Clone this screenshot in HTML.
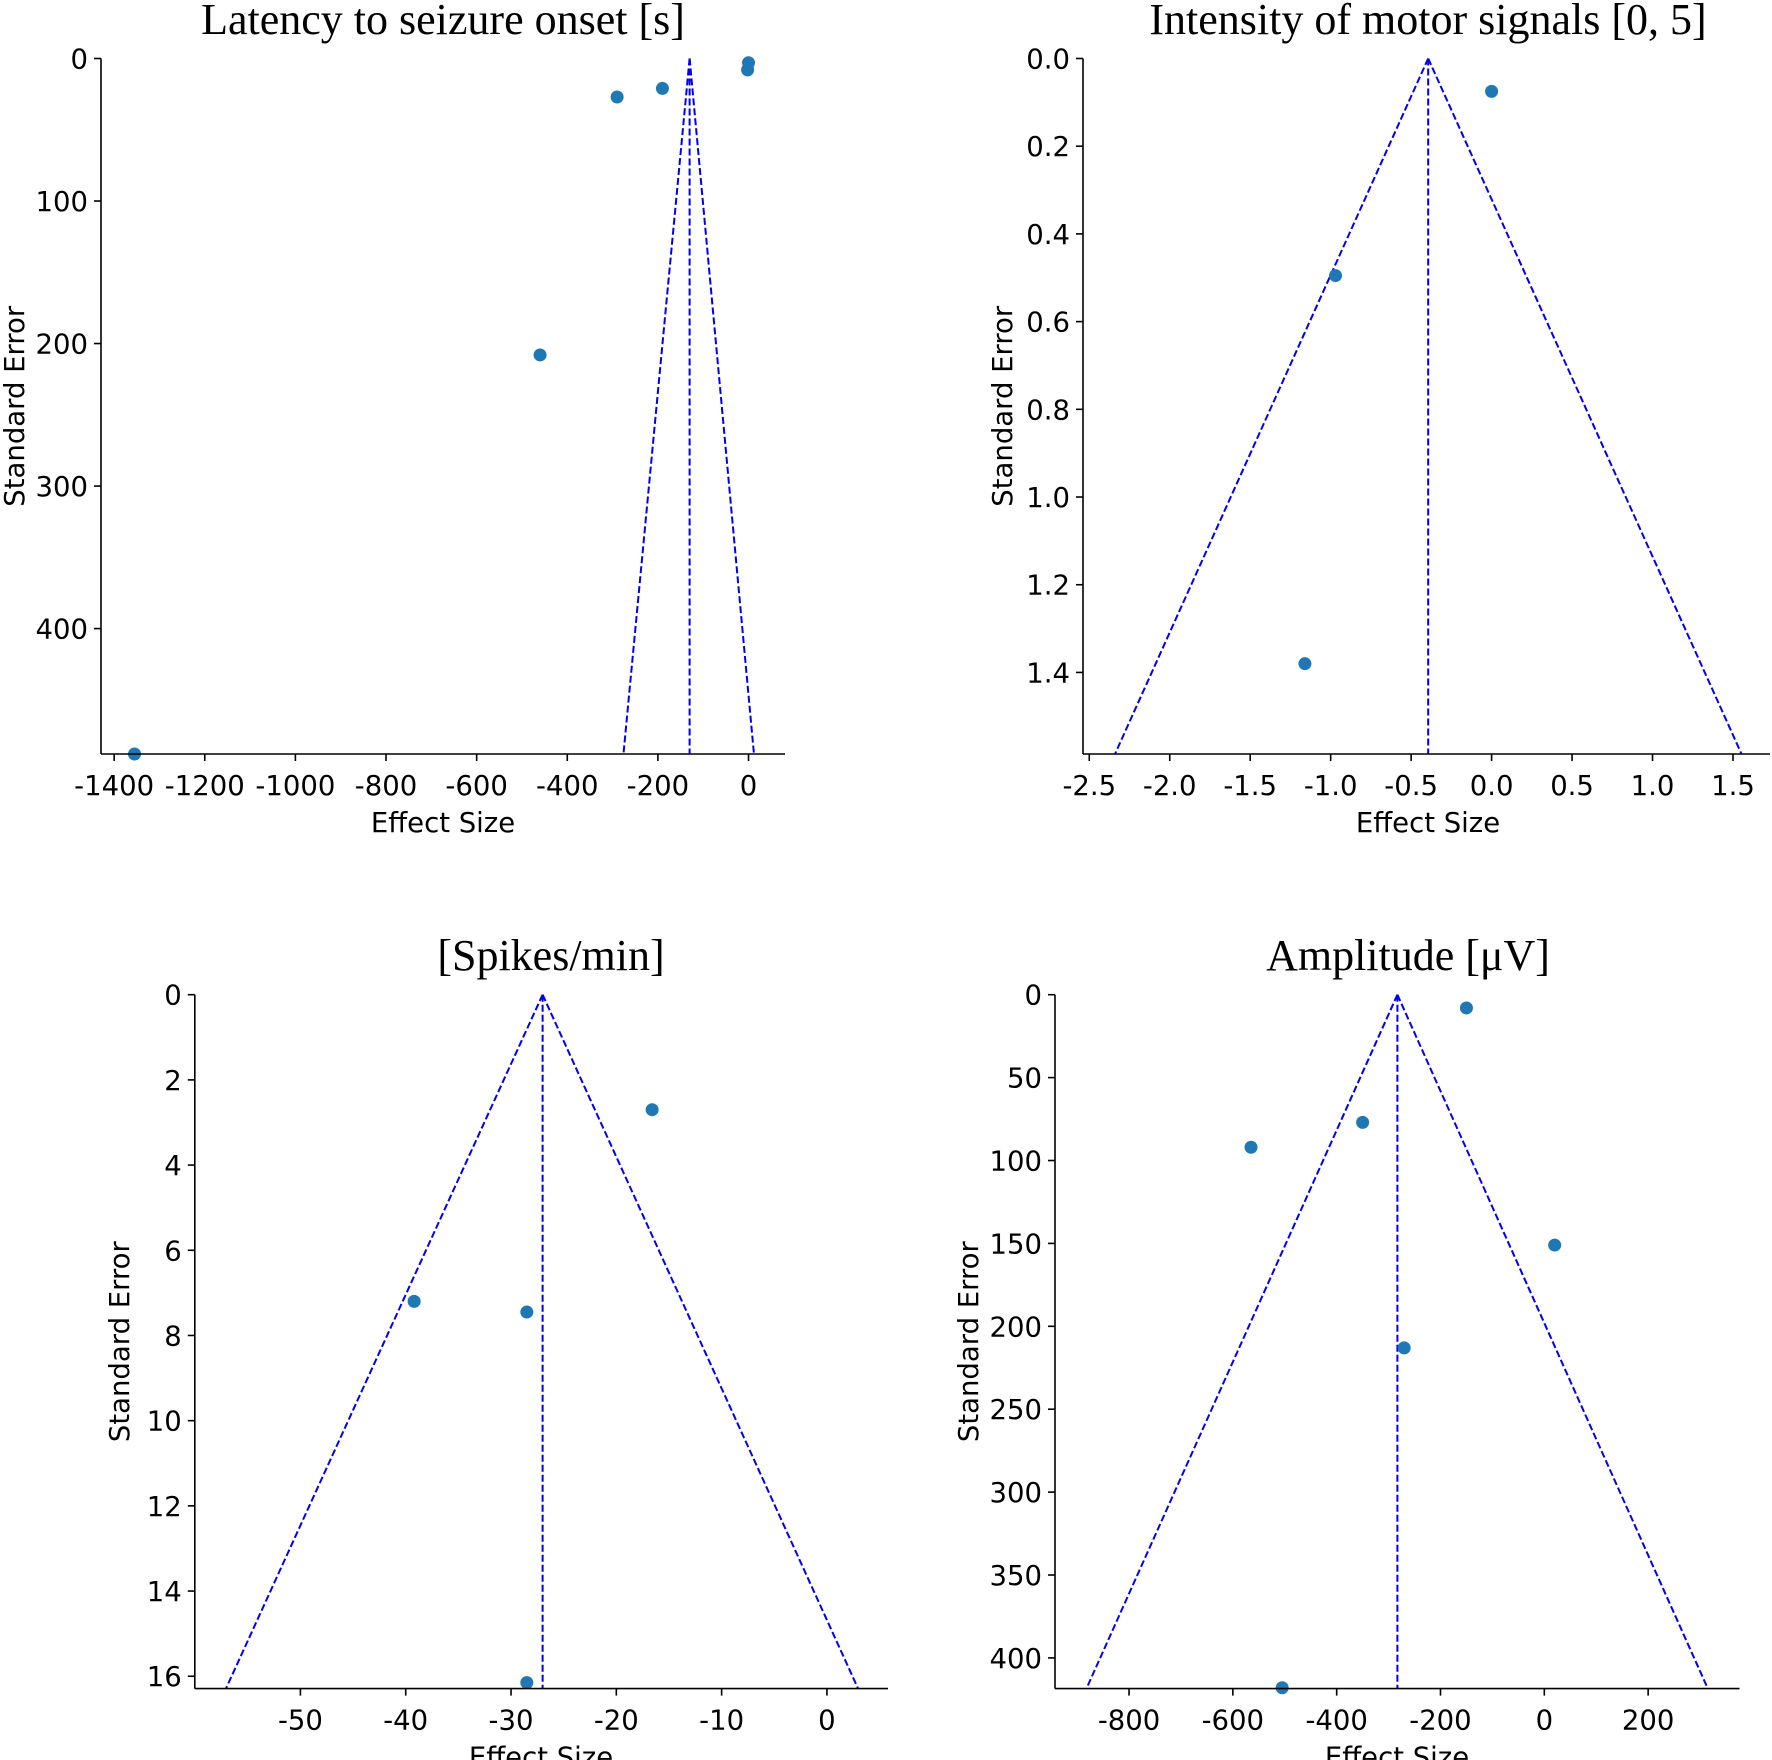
<!DOCTYPE html>
<html><head><meta charset="utf-8"><style>
html,body{margin:0;padding:0;background:#fff;}
svg{display:block;}
.tk{font-family:"DejaVu Sans","Liberation Sans",sans-serif;font-size:27.5px;fill:#000;}
.ttl{font-family:"Liberation Serif",serif;font-size:44px;fill:#000;}
</style></head><body>
<svg id="fig" width="1772" height="1760" xmlns="http://www.w3.org/2000/svg"></svg>
<script>
// Panel 1: Latency to seizure onset
const p1Effects = [-1355, -460, -290, -190, 0, -2];
const p1SE = [488, 208, 27, 21, 3, 8];
const p1XTicks = [-1400, -1200, -1000, -800, -600, -400, -200, 0];
const p1YTicks = [0, 100, 200, 300, 400];
const p1Funnel = [-130, -276, 12]; // center, bottom-left, bottom-right
// Panel 2: Intensity of motor signals
const p2Effects = [0.0, -0.97, -1.16];
const p2SE = [0.075, 0.495, 1.38];
const p2XTicks = [-2.5, -2.0, -1.5, -1.0, -0.5, 0.0, 0.5, 1.0, 1.5];
const p2YTicks = [0.0, 0.2, 0.4, 0.6, 0.8, 1.0, 1.2, 1.4];
const p2Funnel = [-0.394, -2.34, 1.553];
// Panel 3: Spikes/min
const p3Effects = [-16.6, -39.2, -28.5, -28.5];
const p3SE = [2.7, 7.2, 7.45, 16.15];
const p3XTicks = [-50, -40, -30, -20, -10, 0];
const p3YTicks = [0, 2, 4, 6, 8, 10, 12, 14, 16];
const p3Funnel = [-27.0, -57.07, 2.96];
// Panel 4: Amplitude
const p4Effects = [-150, -350, -565, 20, -270, -505];
const p4SE = [8, 77, 92, 151, 213, 418];
const p4XTicks = [-800, -600, -400, -200, 0, 200];
const p4YTicks = [0, 50, 100, 150, 200, 250, 300, 350, 400];
const p4Funnel = [-283, -882, 315];

const NS = "http://www.w3.org/2000/svg";
const fig = document.getElementById('fig');
function mk(tag, attrs, parent, text){
  const e = document.createElementNS(NS, tag);
  for (const k in attrs) e.setAttribute(k, attrs[k]);
  if (text !== undefined) e.textContent = text;
  parent.appendChild(e); return e;
}
function fmt(v, dec){ return v.toFixed(dec); }

function panel(cfg){
  const g = mk('g', {}, fig);
  
  
  const L = cfg.box[0], T = cfg.box[1], R = cfg.box[2], B = cfg.box[3];
  const xs = v => L + (v - cfg.xr[0]) / (cfg.xr[1] - cfg.xr[0]) * (R - L);
  const ys = v => T + (v - cfg.yr[0]) / (cfg.yr[1] - cfg.yr[0]) * (B - T);
  const fg = mk('g', {stroke:'#0000ee', 'stroke-width':2, 'stroke-dasharray':'7,3', fill:'none'}, g);
  
  
  const c = cfg.funnel[0];
  let l = mk('line', {x1:xs(c), y1:ys(0), x2:xs(cfg.funnel[1]), y2:ys(cfg.yr[1])}, fg);
  
  
  l = mk('line', {x1:xs(c), y1:ys(0), x2:xs(cfg.funnel[2]), y2:ys(cfg.yr[1])}, fg);
  
  
  l = mk('line', {x1:xs(c), y1:ys(0), x2:xs(c), y2:ys(cfg.yr[1])}, fg);
  
  
  cfg.ex.forEach((v, i) => {
    const p = mk('circle', {cx:xs(v), cy:ys(cfg.se[i]), r:6.5, fill:'#1f77b4'}, g);
    
    
  });
  let a = mk('line', {x1:L, y1:T, x2:L, y2:B, stroke:'#000', 'stroke-width':1.6}, g);
  
  
  a = mk('line', {x1:L, y1:B, x2:R, y2:B, stroke:'#000', 'stroke-width':1.6}, g);
  
  
  cfg.xt.forEach(v => {
    const x = xs(v);
    mk('line', {x1:x, y1:B, x2:x, y2:B+7, stroke:'#000', 'stroke-width':1.6}, g);
    const t = mk('text', {x:x, y:B+41, 'text-anchor':'middle', class:'tk'}, g, fmt(v, cfg.dec));
    
    
  });
  cfg.yt.forEach(v => {
    const y = ys(v);
    mk('line', {x1:L-7, y1:y, x2:L, y2:y, stroke:'#000', 'stroke-width':1.6}, g);
    const t = mk('text', {x:L-13, y:y+10, 'text-anchor':'end', class:'tk'}, g, fmt(v, cfg.dec));
    
    
  });
  let t = mk('text', {x:(L+R)/2 - cfg.xlOff, y:B+78, 'text-anchor':'middle', class:'tk'}, g, 'Effect Size');
  
  
  t = mk('text', {x:0, y:0, 'text-anchor':'middle', class:'tk', transform:'translate(' + (cfg.ylx+10) + ',' + ((T+B)/2) + ') rotate(-90)'}, g, 'Standard Error');
  
  
  t = mk('text', {x:cfg.title[1], y:cfg.title[2], 'text-anchor':'middle', class:'ttl'}, g, cfg.title[0]);
  
  
}

panel({name:'panel-latency', box:[101,58.5,785,754], xr:[-1429,80.5], yr:[0,488],
  ex:p1Effects, se:p1SE, xt:p1XTicks, yt:p1YTicks, funnel:p1Funnel, dec:0,
  ylx:14, xlOff:0, title:['Latency to seizure onset [s]', 443, 34]});
panel({name:'panel-motor-intensity', box:[1083,58.5,1770,754], xr:[-2.539,1.73], yr:[0,1.586],
  ex:p2Effects, se:p2SE, xt:p2XTicks, yt:p2YTicks, funnel:p2Funnel, dec:1,
  ylx:1002, xlOff:(1083+1770)/2-1428, title:['Intensity of motor signals [0, 5]', 1428, 34]});
panel({name:'panel-spikes', box:[194.8,994.7,888,1688.6], xr:[-60.03,5.8], yr:[0,16.29],
  ex:p3Effects, se:p3SE, xt:p3XTicks, yt:p3YTicks, funnel:p3Funnel, dec:0,
  ylx:119, xlOff:(194.8+888)/2-541, title:['[Spikes/min]', 551, 970]});
panel({name:'panel-amplitude', box:[1055,994.7,1739.5,1688.6], xr:[-942.6,376], yr:[0,418.5],
  ex:p4Effects, se:p4SE, xt:p4XTicks, yt:p4YTicks, funnel:p4Funnel, dec:0,
  ylx:968, xlOff:(1055+1739.5)/2-1397, title:['Amplitude [\u03bcV]', 1408, 970]});
</script>
</body></html>
